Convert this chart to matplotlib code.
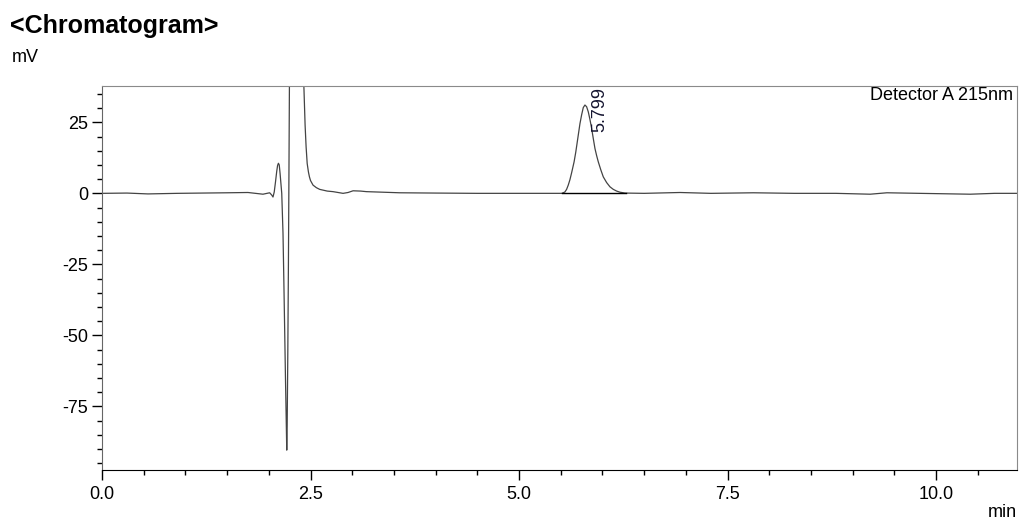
import matplotlib
matplotlib.use('Agg')
import matplotlib.pyplot as plt
from matplotlib.ticker import MultipleLocator

plt.rcParams['font.family'] = ['Liberation Sans', 'DejaVu Sans']

# chromatogram: time (min), signal (mV)
time_min = [0.00, 0.30, 0.55, 0.90, 1.20, 1.50, 1.75, 1.93, 2.01, 2.035,
            2.05, 2.065, 2.08, 2.095, 2.105, 2.115, 2.125, 2.135, 2.145,
            2.155, 2.17, 2.18, 2.19, 2.20, 2.21, 2.215, 2.22, 2.228,
            2.235, 2.24, 2.247, 2.26, 2.33, 2.40, 2.42, 2.435, 2.447,
            2.46, 2.475, 2.487, 2.50, 2.53, 2.57, 2.61, 2.70, 2.77, 2.89,
            2.95, 3.01, 3.10, 3.17, 3.57, 4.00, 4.50, 5.00, 5.40, 5.51,
            5.53, 5.55, 5.57, 5.59, 5.61, 5.63, 5.66, 5.68, 5.71, 5.73,
            5.75, 5.77, 5.79, 5.81, 5.83, 5.85, 5.87, 5.89, 5.91, 5.93,
            5.95, 5.98, 6.01, 6.05, 6.09, 6.13, 6.17, 6.21, 6.27, 6.50,
            6.93, 7.30, 7.81, 8.30, 8.80, 9.21, 9.41, 9.80, 10.41, 10.70,
            10.97]
signal_mv = [0.0, 0.1, -0.2, 0.0, 0.1, 0.2, 0.3, -0.3, 0.2, -0.6,
             -1.3, 0.5, 4.0, 7.8, 9.8, 10.6, 10.0, 7.0, 3.5,
             0.0, -14.0, -30.6, -48.0, -65.7, -82.0, -90.4, -82.0, -55.0,
             -25.0, 0.0, 38.0, 60.0, 90.0, 60.0, 38.0, 24.0, 16.4,
             10.5, 7.5, 5.8, 4.5, 2.9, 2.0, 1.4, 0.8, 0.6, 0.0,
             0.3, 0.9, 0.8, 0.6, 0.2, 0.1, 0.0, 0.0, 0.0, 0.0,
             0.2, 0.5, 1.4, 2.9, 4.8, 7.2, 11.1, 14.5, 20.5, 24.5,
             27.6, 30.2, 31.1, 30.5, 28.7, 26.0, 22.9, 19.3, 15.8, 13.3,
             11.1, 8.3, 5.8, 3.8, 2.3, 1.4, 0.8, 0.4, 0.1, 0.0,
             0.3, 0.0, 0.2, 0.0, 0.0, -0.3, 0.2, 0.0, -0.3, 0.0,
             0.0]

peak_rt = 5.799
peak_label_y = 21.5
peak_start = 5.51
peak_end = 6.28

fig = plt.figure(figsize=(10.19, 5.19), dpi=100)
ax = fig.add_axes([102 / 1019, 49 / 519, 915 / 1019, 384.3 / 519])

ax.plot(time_min, signal_mv, color='#444444', lw=0.9)
ax.plot([peak_start, peak_end], [0, 0], color='black', lw=1.0)
ax.text(peak_rt + 0.17, peak_label_y, '%.3f' % peak_rt, rotation=90,
        ha='center', va='bottom', fontsize=13, color='#151530')

ax.set_xlim(0, 10.97)
ax.set_ylim(-97.4, 37.9)
ax.xaxis.set_major_locator(MultipleLocator(2.5))
ax.xaxis.set_minor_locator(MultipleLocator(0.5))
ax.yaxis.set_major_locator(MultipleLocator(25))
ax.yaxis.set_minor_locator(MultipleLocator(5))
ax.xaxis.set_major_formatter(plt.FuncFormatter(lambda v, p: '%.1f' % v))
ax.yaxis.set_major_formatter(plt.FuncFormatter(lambda v, p: '%d' % v))
ax.tick_params(which='major', length=7, width=1, labelsize=13, pad=3)
ax.tick_params(which='minor', length=3.6, width=1)
ax.tick_params(axis='x', which='major', length=7.2, pad=4)

ax.spines['bottom'].set_color('black')
ax.spines['left'].set_color('#666666')
ax.spines['top'].set_color('#8a8a8a')
ax.spines['right'].set_color('#8a8a8a')

ax.text(0.996, 0.997, 'Detector A 215nm', transform=ax.transAxes,
        ha='right', va='top', fontsize=13)

fig.text(10 / 1019, 1 - 33.3 / 519, '<Chromatogram>', fontsize=18,
         fontweight='bold', va='baseline', ha='left')
fig.text(12 / 1019, 1 - 62 / 519, 'mV', fontsize=13, va='baseline', ha='left')
fig.text(1017 / 1019, 2 / 519, 'min', fontsize=13, va='baseline', ha='right')

fig.savefig('out.png', dpi=100)
